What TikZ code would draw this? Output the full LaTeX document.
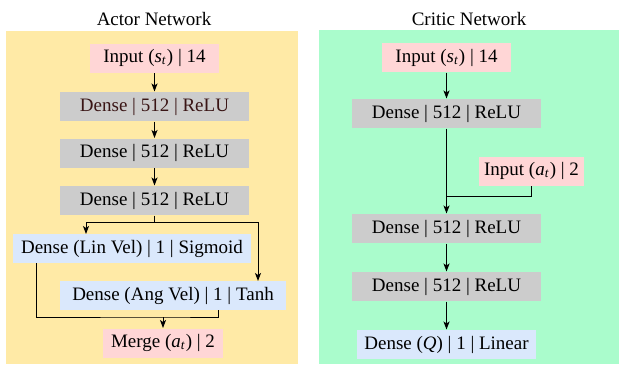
\documentclass[tikz,border=0pt]{standalone}
\usepackage{fontspec}
\setmainfont{Liberation Serif}
\usepackage{xcolor}
\usetikzlibrary{arrows.meta}
\definecolor{actorbg}{HTML}{FFEAA6}
\definecolor{criticbg}{HTML}{AAFCCC}
\definecolor{inpink}{HTML}{FFD6D6}
\definecolor{densegray}{HTML}{CCCCCC}
\definecolor{outblue}{HTML}{DAE8FC}
\definecolor{darkred}{HTML}{3A1515}
\newcommand{\st}{(\textit{s}\textsubscript{\textit{t}})}
\newcommand{\at}{(\textit{a}\textsubscript{\textit{t}})}
\tikzset{
  layer/.style={inner sep=0pt, minimum height=14.5pt, font=\fontsize{9.5}{11}\selectfont},
  inp/.style={layer, fill=inpink},
  dense/.style={layer, fill=densegray, minimum width=94.5pt},
  outp/.style={layer, fill=outblue},
  >={Stealth[length=4pt,width=3pt,inset=1pt]}
}
\begin{document}
\begin{tikzpicture}[x=0.5pt, y=-0.5pt, line width=0.5pt]
  \useasboundingbox (0,0) rectangle (619,364);
  \fill[actorbg] (6,31) rectangle (298,364);
  \fill[criticbg] (319,30) rectangle (619,364);
  \node[layer] (atitle) at (154,19) {Actor Network};
  \node[layer] (ctitle) at (469,19) {Critic Network};

  \node[inp, minimum width=64.5pt] (ai) at (154.5,58) {Input \st{} | 14};
  \node[dense, text=darkred] (a1) at (154.5,106.5) {Dense | 512 | ReLU};
  \node[dense] (a2) at (154.5,153) {Dense | 512 | ReLU};
  \node[dense] (a3) at (154.5,200.5) {Dense | 512 | ReLU};
  \node[outp, minimum width=119pt] (lin) at (132,248.5) {Dense (Lin Vel) | 1 | Sigmoid};
  \node[outp, minimum width=113pt] (ang) at (173,295.5) {Dense (Ang Vel) | 1 | Tanh};
  \node[inp, minimum width=60pt] (mrg) at (163,343) {Merge \at{} | 2};
  \coordinate (split) at (154.5,222);
  \coordinate (linin) at (86,234);
  \coordinate (angin) at (258,281);
  \coordinate (linout) at (36,263);
  \coordinate (angout) at (218,310);
  \coordinate (join) at (163,317);
  \path[->]
  (ai) edge (a1)
  (a1) edge (a2)
  (a2) edge (a3)
  ;
  \draw[->] (a3.south) -- (split) -| (linin);
  \draw[->] (split) -| (angin);
  \draw (linout) |- (join) -| (angout);
  \draw[->] (join) -- (mrg);

  \node[inp, minimum width=64.5pt] (ci) at (446.5,57.5) {Input \st{} | 14};
  \node[dense] (c1) at (446.5,113.5) {Dense | 512 | ReLU};
  \node[inp, minimum width=52.5pt] (ca) at (531.5,171) {Input \at{} | 2};
  \node[dense] (c2) at (446.5,228.5) {Dense | 512 | ReLU};
  \node[dense] (c3) at (446.5,286.5) {Dense | 512 | ReLU};
  \node[outp, minimum width=89.5pt] (cq) at (446.5,344.5) {Dense (\textit{Q}) | 1 | Linear};
  \coordinate (cjoin) at (446.5,196);
  \path[->]
  (ci) edge (c1)
  (c1) edge (c2)
  (c2) edge (c3)
  (c3) edge (cq)
  ;
  \draw (ca) |- (cjoin);
\end{tikzpicture}
\end{document}
